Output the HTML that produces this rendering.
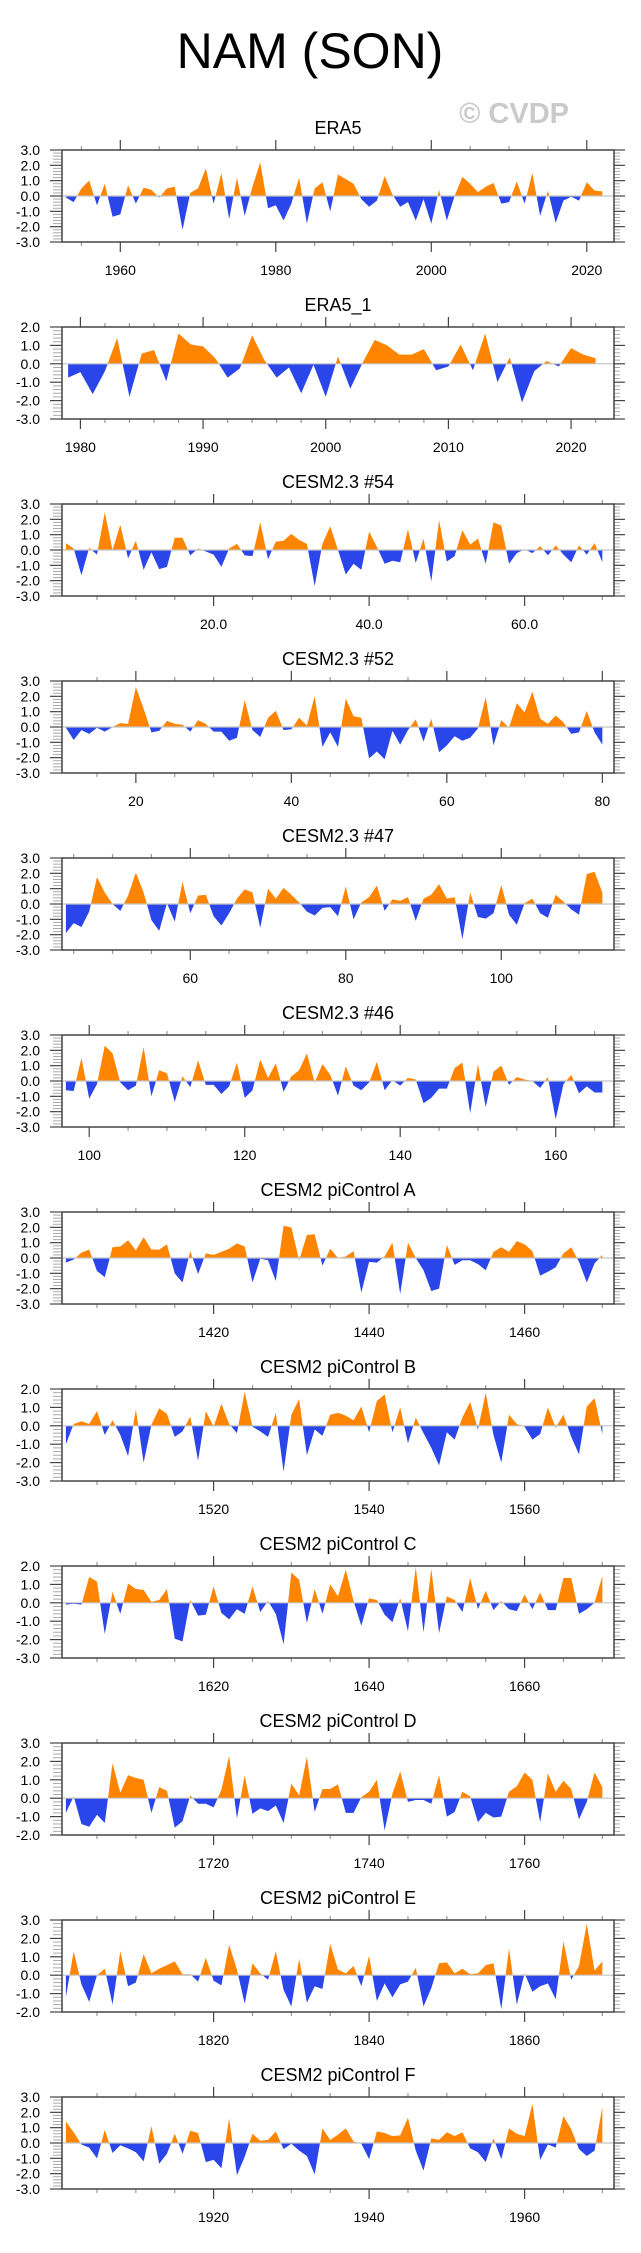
<!DOCTYPE html>
<html><head><meta charset="utf-8">
<style>
html,body{margin:0;padding:0;background:#fff;}
svg{display:block;font-family:"Liberation Sans",Arial,sans-serif;}
</style></head>
<body>
<svg id="chart" width="641" height="2253" viewBox="0 0 641 2253" xmlns="http://www.w3.org/2000/svg">
<text x="310" y="68" font-size="50" text-anchor="middle" fill="#000">NAM (SON)</text>
<text x="514" y="123" font-size="29" font-weight="bold" text-anchor="middle" fill="#cacaca">© CVDP</text>
</svg>
<script>
// ---- data arrays (one per panel) ----
const panelTitles = ["ERA5","ERA5_1","CESM2.3 #54","CESM2.3 #52","CESM2.3 #47","CESM2.3 #46",
 "CESM2 piControl A","CESM2 piControl B","CESM2 piControl C","CESM2 piControl D","CESM2 piControl E","CESM2 piControl F"];
const startYears = [1953,1979,1,11,44,97,1401,1501,1601,1701,1801,1901];
const yMax = [3,2,3,3,3,3,3,2,2,3,3,3];
const yMin = [-3,-3,-3,-3,-3,-3,-3,-3,-3,-2,-2,-3];
const majorStep = [20,10,20,20,20,20,20,20,20,20,20,20];
const minorStep = [5,2,5,5,5,5,5,5,5,5,5,5];
const labelDecimals = [0,0,1,0,0,0,0,0,0,0,0,0];

const valsERA5 = [-0.1,-0.4,0.5,1.0,-0.6,0.8,-1.35,-1.2,0.7,-0.5,0.55,0.4,-0.1,0.5,0.6,-2.2,0.2,0.5,1.8,-0.5,1.5,-1.5,1.2,-1.3,0.6,2.2,-0.8,-0.6,-1.6,-0.5,1.2,-1.8,0.5,0.9,-1.0,1.4,1.1,0.8,-0.2,-0.7,-0.3,1.3,0.1,-0.7,-0.4,-1.6,-0.2,-1.8,0.4,-1.6,0.0,1.25,0.8,0.25,0.6,0.85,-0.5,-0.4,0.95,-0.5,1.5,-1.3,0.35,-1.75,-0.3,-0.05,-0.3,0.9,0.35,0.3];
const valsERA5_1 = [-0.75,-0.45,-1.65,-0.4,1.4,-1.8,0.55,0.75,-0.95,1.65,1.05,0.95,0.3,-0.75,-0.25,1.55,0.2,-0.75,-0.2,-1.6,-0.05,-1.8,0.4,-1.35,0.05,1.3,1.0,0.5,0.5,0.8,-0.35,-0.15,1.05,-0.35,1.65,-1.0,0.35,-2.1,-0.4,0.15,-0.15,0.85,0.5,0.3];
const vals54 = [0.45,0.1,-1.65,0.15,-0.3,2.45,0.0,1.65,-0.55,0.6,-1.3,-0.15,-1.25,-1.1,0.8,0.8,-0.35,0.1,-0.1,-0.3,-1.1,0.1,0.4,-0.35,-0.4,1.8,-0.6,0.55,0.6,1.05,0.65,0.4,-2.35,0.4,1.55,0.0,-1.6,-0.9,-1.3,1.2,0.2,-0.9,-0.7,-0.8,1.35,-0.85,0.75,-2.05,1.95,-0.75,-0.4,1.3,0.35,0.75,-0.9,1.8,1.6,-0.9,-0.2,0.05,-0.2,0.25,-0.35,0.3,-0.3,-0.8,0.3,-0.3,0.45,-0.8];
const vals52 = [-0.05,-0.85,-0.2,-0.45,-0.05,-0.3,0.0,0.25,0.2,2.6,1.2,-0.35,-0.25,0.4,0.2,0.15,-0.3,0.45,0.2,-0.3,-0.3,-0.9,-0.7,1.75,-0.2,-0.65,0.6,1.05,-0.2,-0.15,0.6,0.1,2.0,-1.3,-0.35,-1.3,1.85,0.7,0.6,-2.05,-1.6,-2.1,-0.25,-1.15,-0.2,0.5,-0.95,0.55,-1.65,-1.2,-0.6,-0.9,-0.7,-0.1,1.95,-1.2,0.45,-0.05,1.55,0.95,2.3,0.55,0.2,0.75,0.3,-0.45,-0.35,1.05,-0.35,-1.15];
const vals47 = [-1.9,-1.25,-1.5,-0.5,1.75,0.75,0.0,-0.45,0.55,2.05,0.75,-1.05,-1.75,0.05,-1.15,1.45,-0.6,0.55,0.6,-0.8,-1.4,-0.6,0.35,0.95,0.75,-1.55,1.0,0.35,1.05,0.6,0.1,-0.5,-0.75,-0.25,-0.2,-0.8,1.15,-1.0,0.1,0.45,1.2,-0.45,0.3,0.2,0.45,-1.1,0.35,0.6,1.3,0.35,0.45,-2.3,0.75,-0.85,-0.95,-0.6,1.25,-0.7,-1.35,0.05,0.35,-0.6,-0.9,0.6,0.15,-0.35,-0.7,1.95,2.1,0.75];
const vals46 = [-0.6,-0.65,1.5,-1.15,-0.2,2.3,1.8,-0.1,-0.6,-0.3,2.2,-1.0,0.7,0.5,-1.35,0.3,-0.4,1.35,-0.25,-0.25,-0.85,-0.35,1.2,-1.1,-0.6,1.4,0.2,1.15,-0.7,0.3,0.7,1.8,-0.1,1.1,0.4,-0.95,0.95,-0.3,-0.6,-0.1,1.25,-0.6,0.05,-0.3,0.2,0.1,-1.45,-1.1,-0.5,-0.5,0.85,1.2,-2.1,1.1,-1.7,0.6,1.0,-0.25,0.25,0.1,0.0,-0.45,0.25,-2.5,-0.2,0.4,-0.8,-0.35,-0.75,-0.75];
const valsA = [-0.3,-0.1,0.35,0.55,-0.85,-1.25,0.7,0.75,1.15,0.5,1.35,0.55,0.55,0.9,-1.0,-1.6,0.45,-1.05,0.3,0.2,0.4,0.6,0.95,0.75,-1.6,-0.05,-0.15,-1.5,2.1,2.0,-0.15,1.5,1.55,-0.5,0.6,0.0,0.1,0.45,-2.25,-0.25,-0.3,0.1,1.0,-2.35,1.0,0.0,-0.8,-2.15,-2.0,0.85,-0.45,-0.15,-0.15,-0.4,-0.8,0.4,0.7,0.4,1.1,0.9,0.45,-1.15,-0.9,-0.6,0.3,0.7,-0.25,-1.6,-0.35,0.2];
const valsB = [-1.0,0.1,0.25,0.1,0.8,-0.5,0.3,-0.5,-1.65,0.9,-2.0,0.05,0.95,0.65,-0.6,-0.3,0.5,-1.9,0.8,-0.05,1.2,0.1,-0.4,1.85,-0.05,-0.3,-0.6,0.7,-2.5,0.6,1.45,-1.6,-0.2,-0.55,0.6,0.7,0.55,0.3,1.05,-0.35,1.35,1.7,-0.35,1.0,-0.95,0.45,-0.4,-1.2,-2.15,-0.35,-0.75,0.45,1.3,-0.2,1.8,-0.5,-2.0,0.6,0.1,-0.05,-0.75,-0.45,1.0,-0.1,0.6,-0.6,-1.55,1.05,1.5,-0.45];
const valsC = [-0.1,-0.05,-0.1,1.4,1.15,-1.7,0.6,-0.6,1.05,0.75,0.7,0.05,0.15,0.75,-1.95,-2.1,0.15,-0.7,-0.65,0.9,-0.55,-0.9,-0.35,-0.6,0.9,-0.5,0.1,-0.6,-2.25,1.65,1.25,-1.1,0.75,-0.6,1.0,0.35,1.8,0.1,-1.25,0.25,0.15,-0.65,-1.05,0.25,-1.55,1.95,-1.6,1.85,-1.65,0.35,0.15,-0.5,1.35,-0.35,0.65,-0.4,0.1,-0.35,-0.45,0.45,-0.35,0.55,-0.4,-0.4,1.35,1.35,-0.6,-0.35,0.0,1.45];
const valsD = [-0.8,0.1,-1.4,-1.55,-0.9,-1.35,1.9,0.3,1.25,1.1,1.0,-0.8,0.6,0.4,-1.6,-1.25,0.15,-0.3,-0.3,-0.5,0.45,2.3,-1.1,1.25,-0.85,-0.55,-0.7,-0.4,-1.35,0.8,0.15,2.25,-0.75,0.5,0.5,0.75,-0.8,-0.8,0.05,0.35,1.0,-1.75,0.25,1.45,-0.2,-0.1,-0.1,-0.3,1.25,-1.0,-0.75,0.35,0.1,-1.3,-0.8,-1.05,-1.0,0.35,0.65,1.4,1.0,-1.3,1.35,0.35,0.95,0.5,-1.15,-0.2,1.4,0.6];
const valsE = [-1.2,1.3,-0.5,-1.45,0.0,0.35,-1.6,1.3,-0.6,-0.4,1.15,0.1,0.35,0.55,0.75,0.05,0.05,-0.35,0.95,-0.3,-0.55,1.65,0.3,-1.55,0.65,0.1,-0.25,1.3,-0.8,-1.7,0.9,-1.5,-0.6,-0.75,1.7,0.3,0.1,0.5,-0.6,1.05,-1.4,-0.45,-1.2,-0.5,-0.35,0.4,-1.7,-0.7,0.65,0.7,0.1,0.35,0.05,0.1,0.55,0.65,-1.85,1.45,-1.6,0.1,-0.9,-0.6,-0.45,-1.3,1.85,-0.25,0.5,2.8,0.25,0.75];
const valsF = [1.4,0.7,-0.1,-0.3,-1.0,0.85,-0.65,-0.15,-0.35,-0.6,-1.2,1.1,-1.35,-0.7,0.6,-0.7,0.8,0.65,-1.25,-1.1,-1.65,1.6,-2.1,-0.9,0.6,0.15,0.2,0.75,-0.4,-0.05,-0.5,-0.85,-2.05,0.95,0.2,0.55,0.95,0.1,-0.05,-1.05,0.75,0.65,0.45,0.5,1.65,-0.5,-1.8,0.3,0.2,0.7,0.45,0.7,-0.35,-0.6,-1.25,0.3,-1.05,0.95,0.6,0.45,2.55,-1.1,-0.1,-0.3,1.75,0.9,-0.4,-0.85,-0.5,2.35];

const allVals = [valsERA5,valsERA5_1,vals54,vals52,vals47,vals46,valsA,valsB,valsC,valsD,valsE,valsF];

// ---- layout ----
const NS = "http://www.w3.org/2000/svg";
const svg = document.getElementById('chart');
const L = 62, R = 614, H = 92, TOP0 = 150, PITCH = 177;
function mk(tag, attrs, parent){const e=document.createElementNS(NS,tag);for(const k in attrs)e.setAttribute(k,attrs[k]);(parent||svg).appendChild(e);return e;}
function slug(s){return s.toLowerCase().replace(/[^a-z0-9]+/g,'-').replace(/^-|-$/g,'');}

allVals.forEach((vals, p) => {
  const top = TOP0 + PITCH*p, bot = top + H;
  const x0 = startYears[p] - 0.5, x1 = startYears[p] + vals.length - 1 + 1.5;
  const xs = v => L + (v - x0) / (x1 - x0) * (R - L);
  const ys = v => top + (yMax[p] - v) / (yMax[p] - yMin[p]) * H;
  const nm = slug(panelTitles[p]);
  const g = mk('g', {});
  
  

  const t = mk('text', {x: 338, y: top - 16, 'font-size': 18, 'text-anchor': 'middle', fill: '#000'}, g);
  t.textContent = panelTitles[p];
  
  

  // clip paths
  const y0 = ys(0);
  const defs = mk('defs', {}, g);
  const cpU = mk('clipPath', {id: 'cu' + p}, defs);
  mk('rect', {x: L, y: top, width: R - L, height: y0 - top}, cpU);
  const cpD = mk('clipPath', {id: 'cd' + p}, defs);
  mk('rect', {x: L, y: y0, width: R - L, height: bot - y0}, cpD);

  let d = 'M' + xs(startYears[p]).toFixed(2) + ',' + y0.toFixed(2);
  vals.forEach((v, i) => { d += 'L' + xs(startYears[p] + i).toFixed(2) + ',' + ys(v).toFixed(2); });
  d += 'L' + xs(startYears[p] + vals.length - 1).toFixed(2) + ',' + y0.toFixed(2) + 'Z';
  const pos = mk('path', {d: d, fill: '#ff8400', 'clip-path': 'url(#cu' + p + ')'}, g);
  
  
  const neg = mk('path', {d: d, fill: '#2a46ea', 'clip-path': 'url(#cd' + p + ')'}, g);
  
  

  const zl = mk('line', {x1: L, x2: R, y1: y0, y2: y0, stroke: '#c4c4c4', 'stroke-width': 1.2}, g);
  
  

  // y ticks
  const yMinor = Math.round((yMax[p] - yMin[p]) / 0.2);
  for (let k = 0; k <= yMinor; k++) {
    const v = yMin[p] + k * 0.2, y = ys(v);
    const isMaj = Math.abs(v - Math.round(v)) < 1e-6;
    if (isMaj) {
      mk('line', {x1: L - 12, x2: L, y1: y, y2: y, stroke: '#444', 'stroke-width': 1.2}, g);
      mk('line', {x1: R, x2: R + 11, y1: y, y2: y, stroke: '#444', 'stroke-width': 1.2}, g);
      const lb = mk('text', {x: 40, y: y + 5, 'font-size': 14, 'text-anchor': 'end', fill: '#000'}, g);
      lb.textContent = Math.round(v).toFixed(1);
      
      
    } else {
      mk('line', {x1: L - 9, x2: L, y1: y, y2: y, stroke: '#aaa', 'stroke-width': 1}, g);
      mk('line', {x1: R, x2: R + 6, y1: y, y2: y, stroke: '#aaa', 'stroke-width': 1}, g);
    }
  }
  // x ticks
  const ms = minorStep[p];
  for (let v = Math.ceil(x0 / ms) * ms; v <= x1; v += ms) {
    const x = xs(v);
    const isMaj = v % majorStep[p] === 0;
    const len = isMaj ? 10 : 4;
    const col = isMaj ? '#444' : '#999';
    mk('line', {x1: x, x2: x, y1: top - len, y2: top, stroke: col, 'stroke-width': 1.2}, g);
    mk('line', {x1: x, x2: x, y1: bot, y2: bot + len, stroke: col, 'stroke-width': 1.2}, g);
    if (isMaj) {
      const lb = mk('text', {x: x, y: bot + 33, 'font-size': 14, 'text-anchor': 'middle', fill: '#000'}, g);
      lb.textContent = v.toFixed(labelDecimals[p]);
      
      
    }
  }
  const fr = mk('rect', {x: L, y: top, width: R - L, height: H, fill: 'none', stroke: '#444', 'stroke-width': 1.5}, g);
  
  
});
</script>
</body></html>
